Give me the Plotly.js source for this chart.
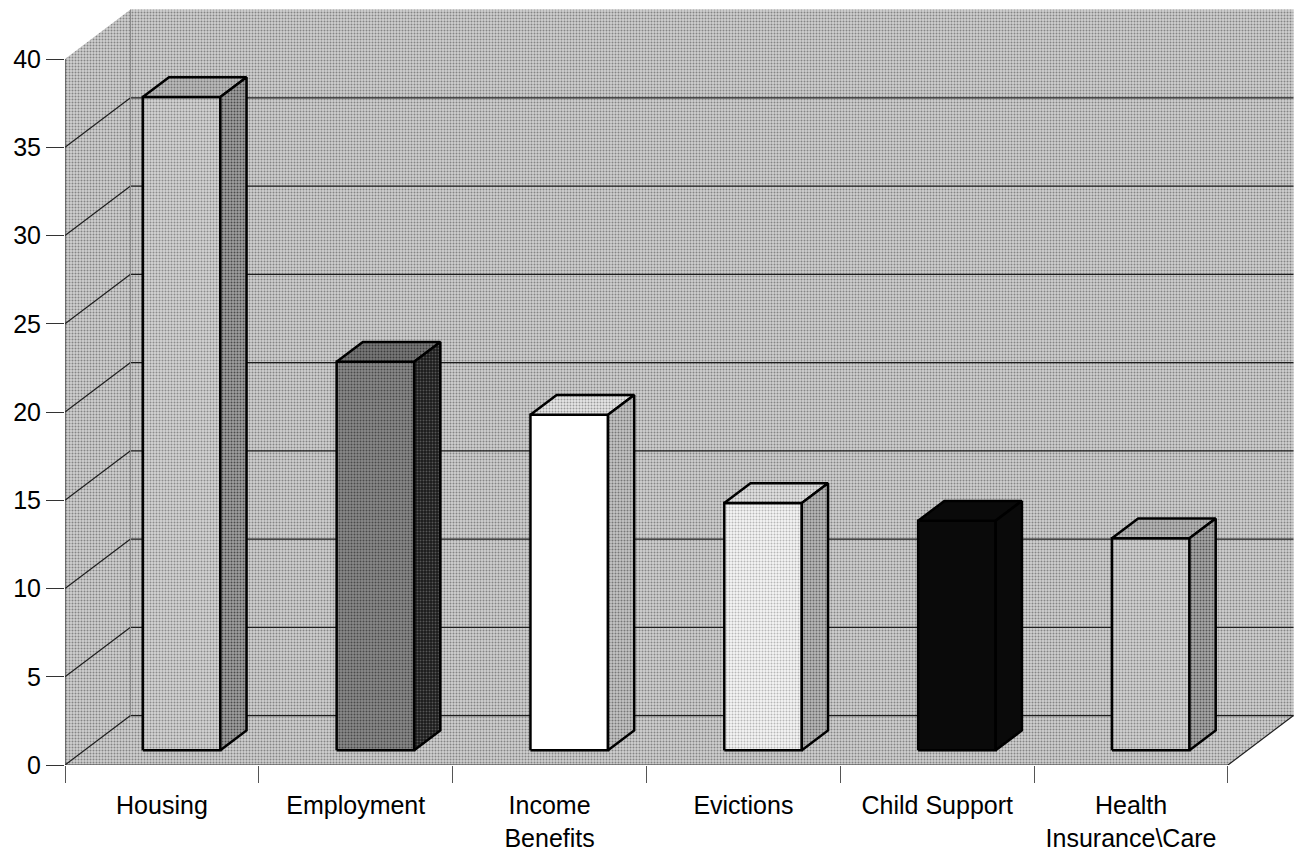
<!DOCTYPE html>
<html>
<head>
<meta charset="utf-8">
<script src="https://cdn.plot.ly/plotly-3.0.1.min.js"></script>
<style>
  html, body { margin: 0; padding: 0; background: #ffffff; }
  #chart { width: 1296px; height: 851px; }
</style>
</head>
<body>
<div id="chart"></div>
<script>
// Categories and their counts
const categories = ["Housing", "Employment", "Income<br>Benefits", "Evictions", "Child Support", "Health<br>Insurance\\Care"];
const values = [37, 22, 19, 14, 13, 12];
const yTicks = [0, 5, 10, 15, 20, 25, 30, 35, 40];

// Oblique projection of the depth axis, in data units (x: categories, y: value)
const DX = 0.338, DY = 2.80;
// Bar footprint inside each category slot (fractions of slot width / depth)
const BAR_X0 = 0.3, BAR_X1 = 0.7, BAR_D0 = 0.3, BAR_D1 = 0.7;
const YMAX = 40;

// Face shading for each bar: front, top, right side (base colour + dither dots)
const faceColors = [
  { front: ["#d4d4d4", "#8c8c8c"], top: ["#bcbcbc", "#777777"], side: ["#a0a0a0", "#4a4a4a"] },
  { front: ["#8a8a8a", "#4a4a4a"], top: ["#7a7a7a", "#3c3c3c"], side: ["#1a1a1a", "#555555"] },
  { front: ["#ffffff", null],      top: ["#e8e8e8", "#9a9a9a"], side: ["#c4c4c4", "#777777"] },
  { front: ["#f6f6f6", "#b8b8b8"], top: ["#e2e2e2", "#999999"], side: ["#b8b8b8", "#6a6a6a"] },
  { front: ["#0a0a0a", null],      top: ["#0a0a0a", null],      side: ["#0a0a0a", null] },
  { front: ["#d2d2d2", "#8a8a8a"], top: ["#b8b8b8", "#707070"], side: ["#a8a8a8", "#555555"] }
];
const WALL_COLOR = ["#d0d0d0", "#858585"];
const FONT = "Arial, 'Liberation Sans', sans-serif";

const n = categories.length;

function proj(x, y, d) { return [x + d * DX, y + d * DY]; }

function polygon(pts, shade, lineColor, lineWidth) {
  const xs = pts.map(p => p[0]), ys = pts.map(p => p[1]);
  xs.push(xs[0]); ys.push(ys[0]);
  const t = {
    type: "scatter", mode: "lines", x: xs, y: ys,
    fill: "toself", fillcolor: shade[0],
    line: { color: lineColor, width: lineWidth },
    hoverinfo: "skip", showlegend: false
  };
  if (shade[1]) {
    t.fillpattern = { shape: ".", size: 3, solidity: 0.35, bgcolor: shade[0], fgcolor: shade[1], fillmode: "replace" };
  }
  return t;
}

function segments(list, color, width) {
  const xs = [], ys = [];
  list.forEach(([a, b]) => { xs.push(a[0], b[0], null); ys.push(a[1], b[1], null); });
  return {
    type: "scatter", mode: "lines", x: xs, y: ys,
    line: { color: color, width: width },
    hoverinfo: "skip", showlegend: false
  };
}

const traces = [];

// Side wall, back wall and floor as one shaded region
traces.push(polygon([
  proj(0, 0, 0), proj(n, 0, 0), proj(n, 0, 1), proj(n, YMAX, 1),
  proj(0, YMAX, 1), proj(0, YMAX, 0)
], WALL_COLOR, "rgba(0,0,0,0)", 0));

// Gridlines: diagonal on the side wall, horizontal on the back wall
const grid = [];
yTicks.forEach(v => {
  if (v < YMAX) {
    grid.push([proj(0, v, 0), proj(0, v, 1)]);
    grid.push([proj(0, v, 1), proj(n, v, 1)]);
  }
});
grid.push([proj(n, 0, 0), proj(n, 0, 1)]);
traces.push(segments(grid, "#1e1e1e", 1.2));

// Corner between side and back wall
traces.push(segments([[proj(0, 0, 1), proj(0, YMAX, 1)]], "#8a8a8a", 1));

// Front edges: value axis and floor edge
traces.push(segments([[proj(0, 0, 0), proj(0, YMAX, 0)], [proj(0, 0, 0), proj(n, 0, 0)]], "#333333", 1.2));

// Bars: front, top and right faces
values.forEach((v, i) => {
  const c = faceColors[i];
  const x0 = i + BAR_X0, x1 = i + BAR_X1;
  traces.push(polygon([proj(x0, 0, BAR_D0), proj(x1, 0, BAR_D0), proj(x1, v, BAR_D0), proj(x0, v, BAR_D0)], c.front, "#000000", 2.5));
  traces.push(polygon([proj(x0, v, BAR_D0), proj(x1, v, BAR_D0), proj(x1, v, BAR_D1), proj(x0, v, BAR_D1)], c.top, "#000000", 2.5));
  traces.push(polygon([proj(x1, 0, BAR_D0), proj(x1, 0, BAR_D1), proj(x1, v, BAR_D1), proj(x1, v, BAR_D0)], c.side, "#000000", 2.5));
});

const plotW = 1296 - 65;
const slotPx = 193.83;
const unitPx = 17.65;
const plotH = 851 - 86 - 8;

const layout = {
  width: 1296, height: 851,
  paper_bgcolor: "#ffffff", plot_bgcolor: "#ffffff",
  margin: { l: 65, r: 0, t: 8, b: 86, pad: 0 },
  showlegend: false,
  font: { family: FONT, size: 25, color: "#000000" },
  xaxis: {
    range: [0, plotW / slotPx],
    tickmode: "array",
    tickvals: categories.map((_, i) => i + 0.5),
    ticktext: categories,
    ticks: "outside", ticklen: 18, tickcolor: "rgba(0,0,0,0)",
    showgrid: false, zeroline: false, showline: false,
    tickfont: { family: FONT, size: 25, color: "#000000" },
    minor: {
      tickmode: "array",
      tickvals: categories.map((_, i) => i).concat([n]),
      ticks: "outside", ticklen: 17, tickwidth: 1, tickcolor: "#555555",
      showgrid: false
    },
    fixedrange: true
  },
  yaxis: {
    range: [0, plotH / unitPx],
    tickmode: "array",
    tickvals: yTicks,
    ticktext: yTicks.map(String),
    ticks: "outside", ticklen: 18, tickwidth: 1, tickcolor: "#333333",
    showgrid: false, zeroline: false, showline: false,
    tickfont: { family: FONT, size: 25, color: "#000000" },
    fixedrange: true
  }
};

Plotly.newPlot("chart", traces, layout, { staticPlot: true, displayModeBar: false });
</script>
</body>
</html>
